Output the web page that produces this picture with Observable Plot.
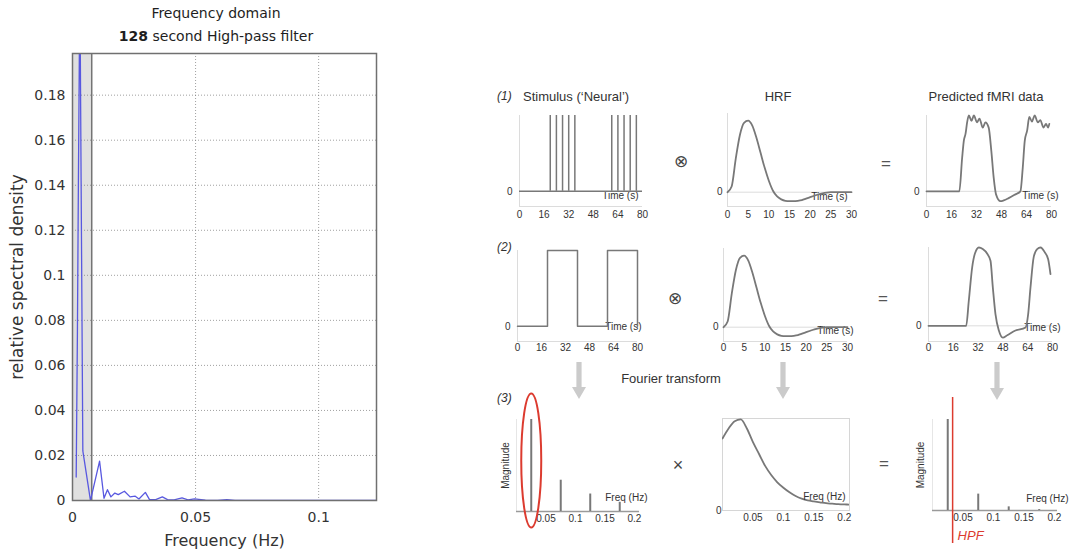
<!DOCTYPE html>
<html>
<head>
<meta charset="utf-8">
<script src="https://cdn.jsdelivr.net/npm/d3@7"></script>
<script src="https://cdn.jsdelivr.net/npm/@observablehq/plot@0.6"></script>
<style>
  body { margin: 0; background: #fff; }
  #fig { position: relative; width: 1072px; height: 555px; overflow: hidden; background: #fff; }
</style>
</head>
<body>
<div id="fig"></div>
<script>
// ---------- Left: spectral density of a high-pass filtered series ----------
const psdFreq = [0.0015, 0.0020, 0.0024, 0.0030, 0.0035, 0.0042, 0.0073, 0.0110, 0.0128, 0.0142, 0.0156,
  0.0172, 0.0186, 0.0211, 0.0234, 0.0255, 0.0270, 0.0296, 0.0313, 0.0338, 0.0365, 0.0386, 0.0413,
  0.0445, 0.0469, 0.0496, 0.0540, 0.0590, 0.0627, 0.0660, 0.0800, 0.1000, 0.1235];
const psdValue = [0.0104, 0.075, 0.142, 0.23, 0.142, 0.022, 0.0, 0.0175, 0.001, 0.0048, 0.0016,
  0.0033, 0.0026, 0.0041, 0.0016, 0.0019, 0.0007, 0.0036, 0.0004, 0.0004, 0.0016, 0.0004, 0.0003,
  0.0012, 0.0003, 0.0007, 0.0002, 0.0001, 0.0004, 0.0001, 0.0, 0.0, 0.0];
const hpfPeriod = 128; // seconds
const psdXTicks = [0, 0.05, 0.1];
const psdYTicks = [0, 0.02, 0.04, 0.06, 0.08, 0.1, 0.12, 0.14, 0.16, 0.18];

// ---------- Right: stimulus, HRF and predicted response ----------
const eventTimes = [20, 24, 28, 32, 36, 60, 64, 68, 72, 76];
const blockTimes = [0, 20, 20, 40, 40, 60, 60, 80, 80];
const blockLevels = [0, 0, 1, 1, 0, 0, 1, 1, 0];
const timeTicks = [0, 16, 32, 48, 64, 80];

const hrfTime = [0, 1, 2, 3, 4, 5, 6, 7, 8, 9, 10, 11, 12, 13, 14, 15, 16, 17, 18, 19, 20,
  21, 22, 23, 24, 25, 26, 27, 28, 29, 30];
const hrfValue = [0, 0.08, 0.47, 0.8, 0.97, 1.0, 0.93, 0.76, 0.55, 0.34, 0.16, 0.02, -0.06, -0.1,
  -0.12, -0.125, -0.125, -0.12, -0.11, -0.09, -0.07, -0.05, -0.03, -0.015, -0.005, 0, 0, 0, 0, 0, 0];
const hrfTicks = [0, 5, 10, 15, 20, 25, 30];

const predEventTime = [0, 21, 22.8, 23.9, 25, 26, 27.1, 28.8, 30.3, 32.4, 33.9, 36, 37.7, 39.8, 41.5,
  43, 44.5, 47.3, 49.4, 52.6, 56.9, 60.1, 61.6, 62.9, 64.4, 65.8, 67.5, 69.2, 71.3, 72.8, 74.9,
  76.5, 77.8, 78.6];
const predEventValue = [0, 0, 0.44, 0.67, 0.76, 0.91, 1.0, 0.93, 1.0, 0.91, 0.96, 0.84, 0.91, 0.84,
  0.53, 0.18, -0.04, -0.13, -0.12, -0.09, -0.04, 0, 0.31, 0.67, 0.8, 0.98, 0.92, 1.0, 0.91, 0.94,
  0.84, 0.89, 0.84, 0.89];
const predBlockTime = [0, 24.3, 26, 28.2, 29.9, 32.5, 35, 37.9, 40, 41.5, 43.2, 45.4, 47.9, 50.8,
  56.1, 62.6, 64.3, 65.8, 67.9, 70.1, 72.3, 75, 77.2, 78.7];
const predBlockValue = [0, 0, 0.32, 0.75, 0.92, 1.0, 0.98, 0.92, 0.83, 0.49, 0.15, -0.06, -0.15,
  -0.12, -0.06, -0.02, 0.15, 0.49, 0.88, 0.98, 1.0, 0.94, 0.85, 0.66];

// ---------- Fourier domain ----------
const harmonicFreq = [0.025, 0.075, 0.125, 0.175];
const harmonicMag = [1, 0.34, 0.19, 0.10];
const filteredMag = [1, 0.18, 0.04, 0.01];
const hrfSpecFreq = [0, 0.01, 0.02, 0.03, 0.04, 0.05, 0.06, 0.07, 0.08, 0.09, 0.10, 0.11, 0.12,
  0.13, 0.14, 0.15, 0.16, 0.17, 0.18, 0.19, 0.20, 0.21];
const hrfSpecMag = [0.79, 0.9, 0.98, 1.0, 0.9, 0.75, 0.62, 0.49, 0.39, 0.31, 0.25, 0.2, 0.16,
  0.13, 0.11, 0.10, 0.09, 0.08, 0.075, 0.07, 0.067, 0.065];
const freqTicks = [0.05, 0.1, 0.15, 0.2];
const hpfCutoff = 0.033;

// ---------- styling ----------
const SANS = '"Liberation Sans", Arial, sans-serif';
const MATLAB_FONT = '"DejaVu Sans", Verdana, sans-serif';
const TEXT = "#333";
const INK = "#787878";
const LIGHT = "#dcdcdc";
const RED = "#dc3b2f";

const fig = document.getElementById("fig");

function place(node, left, top) {
  Object.assign(node.style, {
    position: "absolute", left: `${left}px`, top: `${top}px`,
    background: "transparent", overflow: "visible", maxWidth: "none"
  });
  fig.appendChild(node);
}

// frame = [x0, x1, y0, y1] of the plotting area on the page
function panel(frame, options, pad = [30, 30, 30, 30], font = SANS, size = 10) {
  const [x0, x1, y0, y1] = frame;
  const [pt, pr, pb, pl] = pad;
  const svg = Plot.plot({
    width: x1 - x0 + pl + pr,
    height: y1 - y0 + pt + pb,
    marginTop: pt, marginRight: pr, marginBottom: pb, marginLeft: pl,
    style: {fontFamily: font, fontSize: `${size}px`, color: TEXT},
    ...options
  });
  place(svg, x0 - pl, y0 - pt);
  return svg;
}

function label(parts, x, y, {anchor = "middle", size = 13, italic = false, color = TEXT, family = SANS} = {}) {
  const div = document.createElement("div");
  Object.assign(div.style, {
    position: "absolute", left: `${x}px`, top: `${y}px`, whiteSpace: "nowrap",
    fontFamily: family, fontSize: `${size}px`, color, lineHeight: "1",
    fontStyle: italic ? "italic" : "normal",
    transform: `translate(${anchor === "start" ? "0" : "-50%"}, -50%)`
  });
  for (const part of [].concat(parts)) {
    const [text, bold] = Array.isArray(part) ? part : [part, false];
    const span = document.createElement(bold ? "b" : "span");
    span.textContent = text;
    div.appendChild(span);
  }
  fig.appendChild(div);
}

function downArrow(cx, top, tip) {
  const w = 16, h = tip - top, s = 2.6, head = 12, hw = 7, c = w / 2;
  const svg = d3.create("svg").attr("width", w).attr("height", h);
  svg.append("path")
    .attr("d", `M${c - s},0H${c + s}V${h - head}H${c + hw}L${c},${h}L${c - hw},${h - head}H${c - s}Z`)
    .attr("fill", "#cbcbcb");
  place(svg.node(), cx - c, top);
}

// ---------- left chart ----------
const psd = psdFreq.map((f, i) => ({f, v: psdValue[i]}));
panel([72, 376, 53, 500], {
  x: {domain: [0, 0.1235]},
  y: {domain: [0, 0.1985]},
  marks: [
    Plot.rect([{lo: 0, hi: 1 / hpfPeriod}], {x1: "lo", x2: "hi", fill: "#e0e0e0"}),
    Plot.gridX({ticks: [0.05, 0.1], stroke: "#777", strokeOpacity: 0.7, strokeDasharray: "1,2"}),
    Plot.gridY({ticks: psdYTicks.slice(1), stroke: "#777", strokeOpacity: 0.7, strokeDasharray: "1,2"}),
    Plot.ruleX([1 / hpfPeriod], {stroke: "#747474", strokeWidth: 1.5}),
    Plot.line(psd, {x: "f", y: "v", stroke: "#5858e0", strokeWidth: 1.3, clip: true}),
    Plot.frame({stroke: "#707070", strokeWidth: 1.5}),
    Plot.axisX({ticks: psdXTicks, tickSize: 0, tickPadding: 12, label: null, tickFormat: String}),
    Plot.axisY({ticks: psdYTicks, tickSize: 0, tickPadding: 7, label: null, tickFormat: String}),
    Plot.text(["Frequency (Hz)"], {text: (d) => d, frameAnchor: "bottom", dy: 45, fontSize: 16}),
    Plot.text(["relative spectral density"], {text: (d) => d, frameAnchor: "left", textAnchor: "middle", dx: -55, rotate: -90, fontSize: 17})
  ]
}, [53, 20, 55, 72], MATLAB_FONT, 14);

label("Frequency domain", 216, 13, {family: MATLAB_FONT, size: 14, color: "#1e1e1e"});
label([["128", true], " second High-pass filter"], 216, 36, {family: MATLAB_FONT, size: 14, color: "#1e1e1e"});

// ---------- time-domain panels ----------
function timeFrame({ticks, yMin, zero, tickPad, zeroPad, nameDx, nameDy}) {
  return [
    Plot.ruleX([0], {stroke: LIGHT}),
    Plot.ruleY([yMin], {stroke: LIGHT}),
    ...(zero ? [Plot.ruleY([0], {stroke: LIGHT})] : []),
    Plot.axisX({ticks, tickSize: 0, tickPadding: tickPad, label: null, tickFormat: String}),
    Plot.axisY({ticks: [0], tickSize: 0, tickPadding: zeroPad, label: null, tickFormat: String}),
    Plot.text(["Time (s)"], {text: (d) => d, frameAnchor: "bottom-right", textAnchor: "end", dx: nameDx, dy: nameDy, fill: TEXT})
  ];
}
const lineStyle = {stroke: INK, strokeWidth: 1.8};
const smooth = {curve: "monotone-x", ...lineStyle};

const hrf = hrfTime.map((t, i) => ({t, v: hrfValue[i]}));
const predEvent = predEventTime.map((t, i) => ({t, v: predEventValue[i]}));
const predBlock = predBlockTime.map((t, i) => ({t, v: predBlockValue[i]}));
const block = blockTimes.map((t, i) => ({t, v: blockLevels[i]}));

// row 1: event-related
panel([519, 642, 115, 206], {
  x: {domain: [0, 80]}, y: {domain: [-0.2, 1.0]},
  marks: [
    ...timeFrame({ticks: timeTicks, yMin: -0.2, tickPad: 4, zeroPad: 7, nameDx: -4, nameDy: -8}),
    Plot.ruleY([0], {...lineStyle, strokeWidth: 1.5}),
    Plot.ruleX(eventTimes, {y1: 0, y2: 1, ...lineStyle, strokeWidth: 1.5})
  ]
});
panel([727, 851, 113, 206], {
  x: {domain: [0, 30]}, y: {domain: [-0.2, 1.1]},
  marks: [
    ...timeFrame({ticks: hrfTicks, yMin: -0.2, zero: true, tickPad: 4, zeroPad: 5, nameDx: -4, nameDy: -7}),
    Plot.line(hrf, {x: "t", y: "v", ...smooth})
  ]
});
panel([926, 1051, 115, 206], {
  x: {domain: [0, 80]}, y: {domain: [-0.2, 1.0]},
  marks: [
    ...timeFrame({ticks: timeTicks, yMin: -0.2, zero: true, tickPad: 4, zeroPad: 7, nameDx: 7, nameDy: -8}),
    Plot.line(predEvent, {x: "t", y: "v", ...smooth})
  ]
});

// row 2: blocked
panel([517, 637, 250, 341], {
  x: {domain: [0, 80]}, y: {domain: [-0.2, 1.0]},
  marks: [
    ...timeFrame({ticks: timeTicks, yMin: -0.2, tickPad: 2, zeroPad: 7, nameDx: 4, nameDy: -12}),
    Plot.line(block, {x: "t", y: "v", ...lineStyle, strokeWidth: 1.5})
  ]
});
panel([723, 847, 248, 341], {
  x: {domain: [0, 30]}, y: {domain: [-0.2, 1.1]},
  marks: [
    ...timeFrame({ticks: hrfTicks, yMin: -0.2, zero: true, tickPad: 2, zeroPad: 5, nameDx: 6, nameDy: -8}),
    Plot.line(hrf, {x: "t", y: "v", ...smooth})
  ]
});
panel([928, 1052, 247, 341], {
  x: {domain: [0, 80]}, y: {domain: [-0.2, 1.0]},
  marks: [
    ...timeFrame({ticks: timeTicks, yMin: -0.2, zero: true, tickPad: 2, zeroPad: 7, nameDx: 8, nameDy: -11}),
    Plot.line(predBlock, {x: "t", y: "v", ...smooth})
  ]
});

// ---------- frequency-domain panels ----------
const ellipseSymbol = {
  draw(context) {
    const rx = 10, ry = 67, k = 0.5523;
    context.moveTo(rx, 0);
    context.bezierCurveTo(rx, k * ry, k * rx, ry, 0, ry);
    context.bezierCurveTo(-k * rx, ry, -rx, k * ry, -rx, 0);
    context.bezierCurveTo(-rx, -k * ry, -k * rx, -ry, 0, -ry);
    context.bezierCurveTo(k * rx, -ry, rx, -k * ry, rx, 0);
    context.closePath();
  }
};
const freqAxis = Plot.axisX({ticks: freqTicks, tickSize: 0, tickPadding: 3, label: null, tickFormat: String});
const freqName = (dx, dy) => Plot.text(["Freq (Hz)"], {text: (d) => d, frameAnchor: "bottom-right", textAnchor: "end", dx, dy, fill: TEXT});
const magName = (dx) => Plot.text(["Magnitude"], {text: (d) => d, frameAnchor: "left", textAnchor: "middle", rotate: -90, dx, fill: TEXT});

const stems = harmonicFreq.map((f, i) => ({f, m: harmonicMag[i], filtered: filteredMag[i]}));
const hrfSpec = hrfSpecFreq.map((f, i) => ({f, m: hrfSpecMag[i]}));

panel([516, 639, 419, 511], {
  x: {domain: [0, 0.2085]}, y: {domain: [0, 1], axis: null},
  marks: [
    Plot.ruleX([0], {stroke: "#e6e6e6"}),
    Plot.ruleY([0], {stroke: "#9a9a9a", strokeWidth: 1.5}),
    Plot.ruleX(stems, {x: "f", y1: 0, y2: "m", ...lineStyle, strokeWidth: 2}),
    freqAxis,
    freqName(8, -11),
    magName(-11),
    Plot.dot(stems.slice(0, 1), {x: "f", y: (d) => d.m / 2, dy: -5, r: 5, symbol: ellipseSymbol, fill: "none", stroke: RED, strokeWidth: 2})
  ]
}, [40, 30, 30, 30]);

panel([722, 849, 418, 510], {
  x: {domain: [0, 0.2085]}, y: {domain: [0, 1.01]},
  marks: [
    Plot.frame({stroke: "#d6d6d6"}),
    Plot.line(hrfSpec, {x: "f", y: "m", ...smooth, clip: true}),
    freqAxis,
    Plot.axisY({ticks: [0], tickSize: 0, tickPadding: 1, label: null, tickFormat: String}),
    freqName(-4, -11)
  ]
});

panel([932, 1057, 419, 510], {
  x: {domain: [0, 0.205]}, y: {domain: [0, 1], axis: null},
  marks: [
    Plot.ruleX([0], {stroke: "#e6e6e6"}),
    Plot.ruleY([0], {stroke: "#9a9a9a", strokeWidth: 1.5}),
    Plot.ruleX(stems, {x: "f", y1: 0, y2: "filtered", ...lineStyle, strokeWidth: 2}),
    Plot.ruleX([hpfCutoff], {stroke: RED, strokeWidth: 1.5, insetTop: -22, insetBottom: -33}),
    Plot.text([{label: "HPF", f: hpfCutoff}], {x: "f", text: "label", frameAnchor: "bottom", dy: 29, dx: 5, textAnchor: "start", fill: RED, fontStyle: "italic", fontSize: 13}),
    freqAxis,
    freqName(11, -9),
    magName(-12)
  ]
}, [40, 30, 45, 30]);

// ---------- headings, operators and arrows ----------
label("(1)", 497, 96, {anchor: "start", size: 12, italic: true});
label("Stimulus (\u2018Neural\u2019)", 523, 96, {anchor: "start"});
label("HRF", 778, 96);
label("Predicted fMRI data", 986, 96);
label("(2)", 497, 247, {anchor: "start", size: 12, italic: true});
label("Fourier transform", 671, 378);
label("(3)", 497, 398, {anchor: "start", size: 12, italic: true});

label("\u2297", 681, 161, {size: 17, family: '"DejaVu Sans", sans-serif', color: "#444"});
label("\u2297", 675, 298, {size: 17, family: '"DejaVu Sans", sans-serif', color: "#444"});
label("=", 886, 163, {size: 17, color: "#555"});
label("=", 883, 298, {size: 17, color: "#555"});
label("=", 884, 463, {size: 17, color: "#555"});
label("\u00d7", 678, 465, {size: 18, color: "#444"});

downArrow(579, 362, 399);
downArrow(783, 362, 399);
downArrow(997, 362, 400);
</script>
</body>
</html>
